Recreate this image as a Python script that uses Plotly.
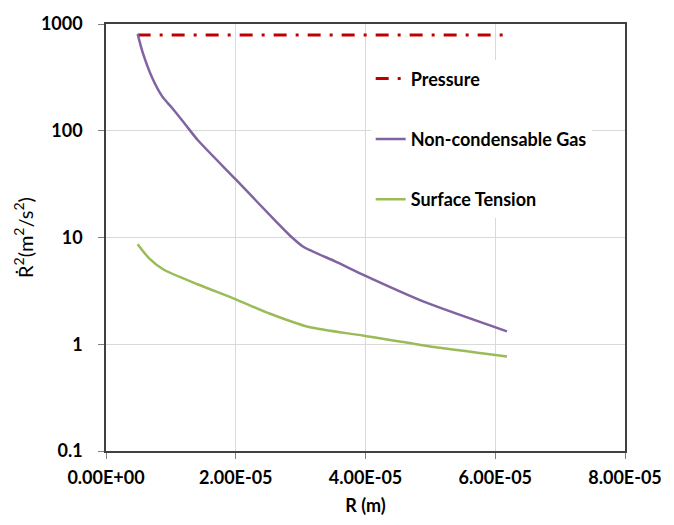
import plotly.graph_objects as go

# Bubble radius R (m) and squared wall velocity contributions (m^2/s^2)
r_pressure = [4.88e-6, 6.18e-5]
v_pressure = [790, 790]

r_gas = [4.88e-6, 5.64e-6, 7.15e-6, 8.66e-6, 1.017e-5, 1.22e-5, 1.42e-5,
         2.0e-5, 2.63e-5, 2.83e-5, 3.04e-5, 3.54e-5, 3.95e-5, 4.94e-5, 6.18e-5]
v_gas = [804, 545, 310, 210, 164, 115, 81,
         35, 13.9, 10.5, 8.2, 5.95, 4.52, 2.45, 1.32]

r_tension = [4.88e-6, 6.65e-6, 8.92e-6, 1.42e-5, 1.99e-5, 2.53e-5,
             3.13e-5, 3.98e-5, 4.95e-5, 6.18e-5]
v_tension = [8.66, 6.38, 4.99, 3.63, 2.65, 1.93, 1.45, 1.2, 0.964, 0.769]

x_ticks = [0, 2e-5, 4e-5, 6e-5, 8e-5]
x_labels = ["0.00E+00", "2.00E-05", "4.00E-05", "6.00E-05", "8.00E-05"]
y_ticks = [0.1, 1, 10, 100, 1000]
y_labels = ["0.1", "1", "10", "100", "1000"]

FONT = "Lato"

fig = go.Figure()
fig.add_trace(go.Scatter(
    x=r_pressure, y=v_pressure, mode="lines", name="Pressure",
    legendgroup="p",
    line=dict(color="#C00000", width=3, dash="13px,9px,3px,9px")))
fig.add_trace(go.Scatter(
    x=r_gas, y=v_gas, mode="lines", name="Non-condensable Gas",
    legendgroup="g", line=dict(color="#8064A2", width=2.5, shape="spline", smoothing=0.6)))
fig.add_trace(go.Scatter(
    x=r_tension, y=v_tension, mode="lines", name="Surface Tension",
    legendgroup="t", line=dict(color="#9BBB59", width=2.5, shape="spline", smoothing=0.6)))

fig.update_layout(
    width=674, height=525,
    margin=dict(l=106, r=39, t=18, b=72),
    paper_bgcolor="white", plot_bgcolor="white",
    font=dict(family=FONT, color="black", size=18),
    legend=dict(x=0.51, y=0.915, xanchor="left", yanchor="top",
                bgcolor="white", tracegroupgap=34,
                font=dict(family=FONT, size=18, color="black", weight="bold"),
                itemwidth=30),
    xaxis=dict(
        range=[0, 8e-5], tickvals=x_ticks, ticktext=x_labels,
        showgrid=True, gridcolor="#D9D9D9", gridwidth=1,
        showline=True, linecolor="#404040", linewidth=1.5, mirror=True,
        ticks="outside", ticklen=6, tickcolor="#808080",
        tickfont=dict(family=FONT, size=18, weight="bold"),
        ticklabelstandoff=4, zeroline=False,
        title=dict(text="R (m)", font=dict(family=FONT, size=18, weight="bold"), standoff=12)),
    yaxis=dict(
        type="log", range=[-1, 3], tickvals=y_ticks, ticktext=y_labels,
        showgrid=True, gridcolor="#D9D9D9", gridwidth=1,
        showline=True, linecolor="#404040", linewidth=1.5, mirror=True,
        ticks="outside", ticklen=6, tickcolor="#808080",
        tickfont=dict(family=FONT, size=18, weight="bold"),
        ticklabelstandoff=12, zeroline=False,
        title=dict(text="Ṙ<sup>2</sup>(m<sup>2</sup>/s<sup>2</sup>)",
                   font=dict(family=FONT, size=20), standoff=2)),
)

fig.write_html("out.html")
